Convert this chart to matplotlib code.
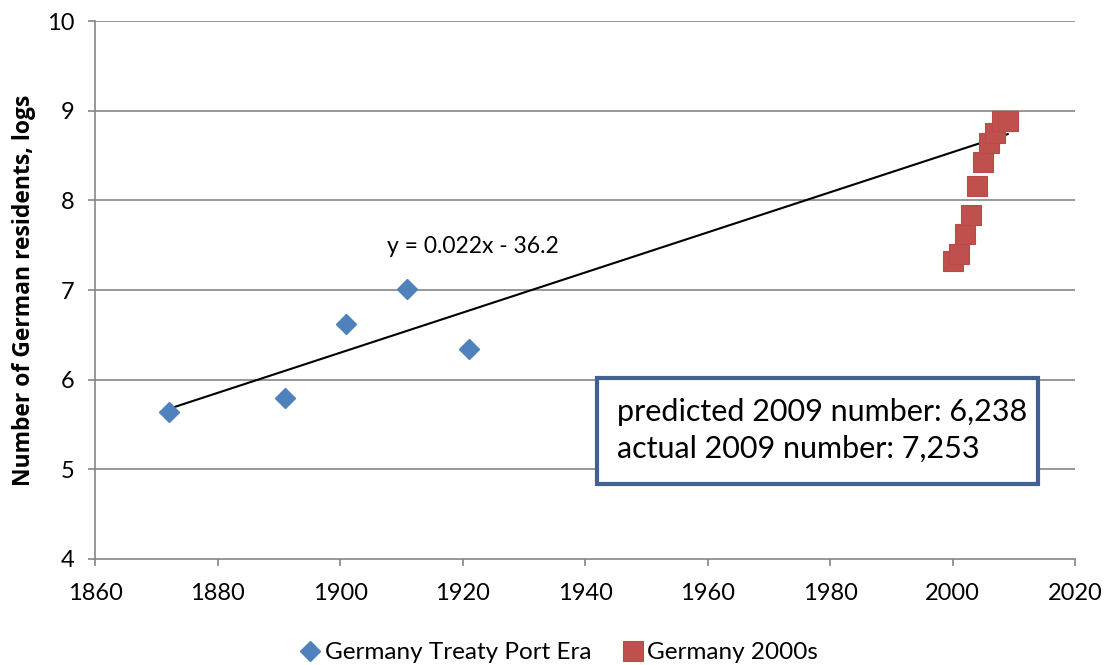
import matplotlib.pyplot as plt
from matplotlib.patches import Rectangle
import numpy as np

# data
treaty_years = [1872, 1891, 1901, 1911, 1921]
treaty_logs = [5.64, 5.80, 6.62, 7.01, 6.34]

modern_years = [2000, 2001, 2002, 2003, 2004, 2005, 2006, 2007, 2008, 2009]
modern_logs = [7.32, 7.40, 7.63, 7.84, 8.16, 8.43, 8.64, 8.75, 8.88, 8.89]

x_ticks = [1860, 1880, 1900, 1920, 1940, 1960, 1980, 2000, 2020]
y_ticks = [4, 5, 6, 7, 8, 9, 10]

plt.rcParams['font.family'] = ['Lato', 'DejaVu Sans']

fig = plt.figure(figsize=(11.05, 6.65), dpi=100)
ax = fig.add_axes([0.086, 0.1594, 0.8869, 0.809])

grid_col = '#868686'
for y in y_ticks[1:]:
    ax.axhline(y, color=grid_col, lw=1.2, zorder=0)

# linear trend on the treaty port era, extended to 2009
slope, intercept = np.polyfit(treaty_years, treaty_logs, 1)
tx = np.array([treaty_years[0], modern_years[-1]])
ax.plot(tx, slope * tx + intercept, color='black', lw=1.5, zorder=3)

ax.plot(treaty_years, treaty_logs, 'D', color='#4f81bd', ms=10.5,
        mec='#4f81bd', label='Germany Treaty Port Era', zorder=4)
ax.plot(modern_years, modern_logs, 's', color='#c0504d', ms=14.5,
        mec='#b84a47', mew=0.8, label='Germany 2000s', zorder=4)

ax.set_xlim(1860, 2020)
ax.set_ylim(4, 10)
ax.set_xticks(x_ticks)
ax.set_yticks(y_ticks)
ax.tick_params(labelsize=17, color=grid_col, length=5, width=1.2, pad=6)
ax.tick_params(axis='x', pad=12)
ax.tick_params(axis='y', pad=10)
for s in ['top', 'right']:
    ax.spines[s].set_visible(False)
for s in ['left', 'bottom']:
    ax.spines[s].set_color(grid_col)
    ax.spines[s].set_linewidth(1.2)

ax.set_ylabel('Number of German residents, logs', fontsize=16.5,
              fontweight='bold', family=['Open Sans', 'DejaVu Sans'],
              labelpad=8)

ax.text(1921.7, 7.48, 'y = %.3fx - %.1f' % (slope, -intercept),
        fontsize=16.5, ha='center', va='center')

# callout box
ax.add_patch(Rectangle((0.512, 0.139), 0.45, 0.197, transform=ax.transAxes,
                       fc='white', ec='#41628f', lw=3, zorder=5))
ax.text(0.533, 0.273, 'predicted 2009 number: 6,238',
        transform=ax.transAxes, fontsize=22, va='center', ha='left', zorder=6)
ax.text(0.533, 0.204, 'actual 2009 number: 7,253',
        transform=ax.transAxes, fontsize=22, va='center', ha='left', zorder=6)

fig.legend(loc='lower center', bbox_to_anchor=(0.505, -0.03), ncol=2,
           frameon=False, fontsize=17.5, handletextpad=0.1,
           columnspacing=1.2, handlelength=1.0)

fig.savefig('out.png', dpi=100)
